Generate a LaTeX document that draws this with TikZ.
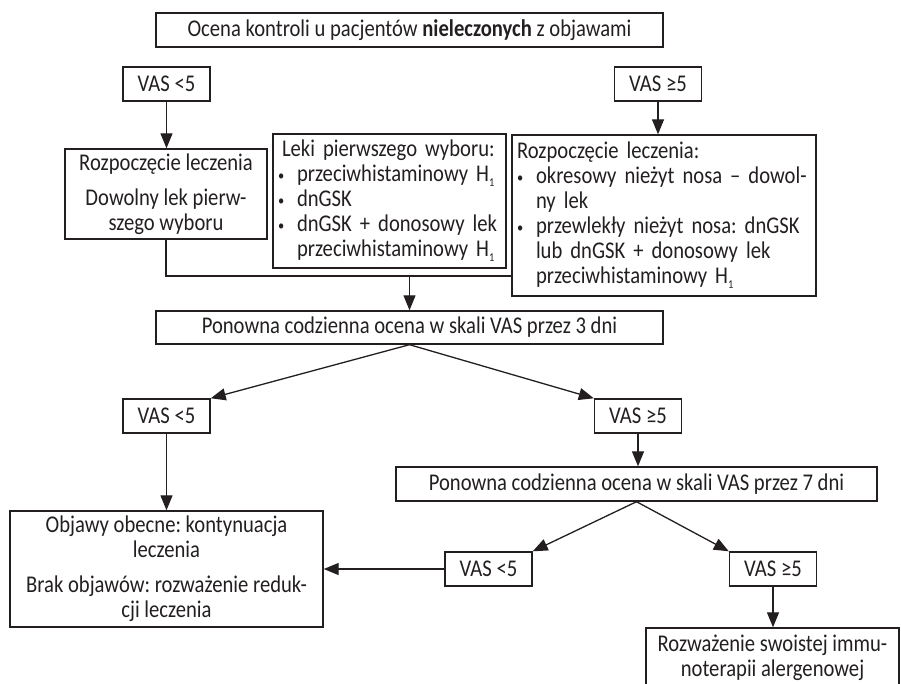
\documentclass[tikz,border=0pt]{standalone}
\usepackage{fontspec}
\setmainfont{Carlito}[FakeStretch=0.86]
\usetikzlibrary{arrows.meta}
\definecolor{ink}{HTML}{231F20}
\frenchspacing
\newcommand{\fsz}{\fontsize{24}{25}\selectfont}
\newcommand{\bl}{\makebox[19pt][l]{\raisebox{0.15ex}{\scalebox{0.6}{\textbullet}}}}
\newcommand{\ind}{\hspace*{19pt}}
\newcommand{\Hone}{H\raisebox{-0.45ex}{\scalebox{0.5}{1}}}
\begin{document}
\begin{tikzpicture}[x=1pt,y=-1pt,
  box/.style={draw=ink, line width=1.4pt, inner sep=0pt, font=\fsz, text=ink, align=center},
  lbox/.style={box, align=left, inner xsep=5pt},
  vas/.style={box, minimum width=87pt, minimum height=34pt},
  arr/.style={draw=ink, line width=1.3pt, -{Triangle[length=15pt,width=12pt]}},
  ln/.style={draw=ink, line width=1.3pt}]
\useasboundingbox (0,0) rectangle (901,684);
\clip (0,0) rectangle (901,684);

\node[box, minimum width=507pt, minimum height=34pt] (title) at (409.5,30)
  {Ocena kontroli u pacjentów \textbf{nieleczonych} z objawami};

\node[vas] (vl1) at (166.5,84) {VAS <5};
\node[vas] (vr1) at (658,84) {VAS ≥5};

\node[box, minimum width=202pt, minimum height=90pt] (rl) at (166,194)
  {Rozpoczęcie leczenia\\[10pt]Dowolny lek pierw-\\szego wyboru};

\node[lbox, text width=223pt, minimum height=134pt] (leki) at (389.5,201)
  {\mbox{\hspace*{4pt}Leki pierwszego wyboru:}\\
   \mbox{\bl przeciwhistaminowy \Hone}\\
   \mbox{\bl dnGSK}\\
   \mbox{\bl dnGSK + donosowy lek}\\
   \mbox{\ind przeciwhistaminowy \Hone}};

\node[lbox, text width=294pt, minimum height=161pt] (rr) at (664,215.5)
  {\mbox{Rozpoczęcie leczenia:}\\
   \mbox{\bl okresowy nieżyt nosa – dowol-}\\
   \mbox{\ind ny lek}\\
   \mbox{\bl przewlekły nieżyt nosa: dnGSK}\\
   \mbox{\ind lub dnGSK + donosowy lek}\\
   \mbox{\ind przeciwhistaminowy \Hone}};

\node[box, minimum width=507pt, minimum height=33pt] (pon1) at (409.5,327.5)
  {Ponowna codzienna ocena w skali VAS przez 3 dni};

\node[vas] (vl2) at (166.5,416) {VAS <5};
\node[vas] (vr2) at (638,416) {VAS ≥5};

\node[box, minimum width=481pt, minimum height=34pt] (pon2) at (636.5,484)
  {Ponowna codzienna ocena w skali VAS przez 7 dni};

\node[box, minimum width=313pt, minimum height=116pt] (obj) at (166.5,569)
  {Objawy obecne: kontynuacja\\leczenia\\[10pt]Brak objawów: rozważenie reduk-\\cji leczenia};

\node[vas] (vl3) at (488.5,569) {VAS <5};
\node[vas] (vr3) at (773,569) {VAS ≥5};

\node[box, minimum width=253pt, minimum height=60pt] (fin) at (772.5,658)
  {Rozważenie swoistej immu-\\noterapii alergenowej};

\coordinate (j) at (409.5,276);

\draw[arr] (vl1.south) -- (vl1.south |- rl.north);
\draw[arr] (vr1.south) -- (vr1.south |- rr.north);
\draw[ln] (rl.south) |- (rr.west |- j);
\draw[arr] (j) -- (pon1.north);
\draw[arr] (pon1.south) -- (vl2.north east);
\draw[arr] (pon1.south) -- (vr2.north west);
\draw[arr] (vl2.south) -- (vl2.south |- obj.north);
\draw[arr] (vr2.south) -- (vr2.south |- pon2.north);
\draw[arr] (pon2.south) -- (vl3.north east);
\draw[arr] (pon2.south) -- (vr3.north west);
\draw[arr] (vl3.west) -- (obj.east |- vl3.west);
\draw[arr] (vr3.south) -- (vr3.south |- fin.north);
\end{tikzpicture}
\end{document}
